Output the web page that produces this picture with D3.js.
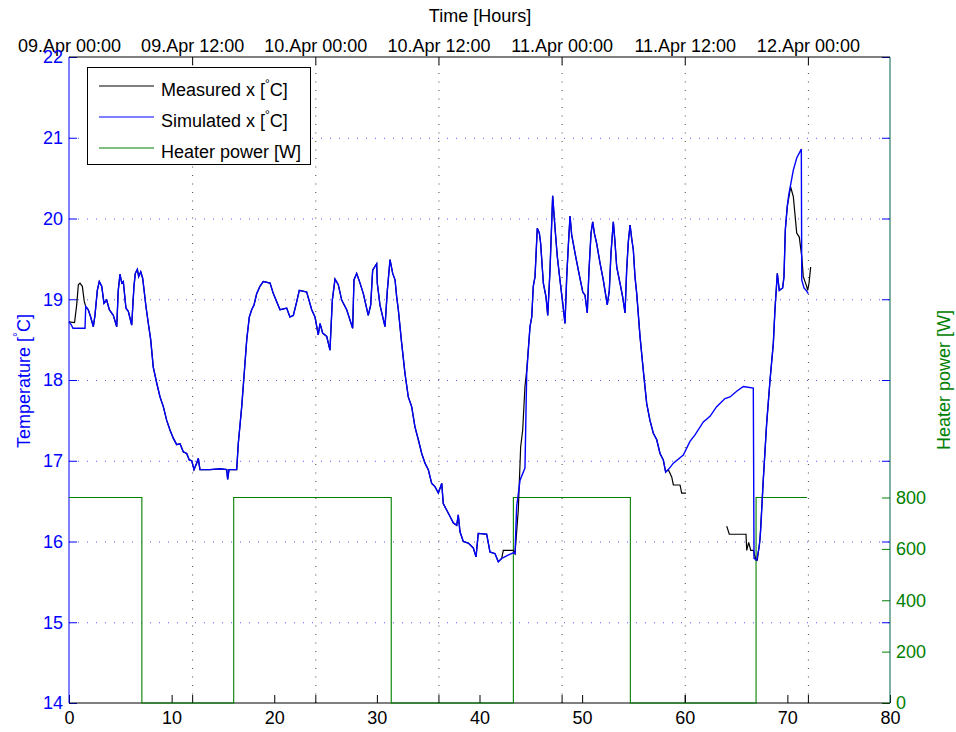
<!DOCTYPE html>
<html lang="en">
<head>
<meta charset="UTF-8">
<script src="https://d3js.org/d3.v7.min.js"></script>
<title>Measured vs simulated temperature</title>
<style>
  body { margin: 0; background: #fff; }
  svg text { font-family: "Liberation Sans", Arial, sans-serif; font-size: 18px; }
  .axis .domain { display: none; }
  .grid .domain { display: none; }
</style>
</head>
<body>
<svg id="chart" width="956" height="732"></svg>
<script>
// ---- tick values / labels
const hourTicks = [0, 10, 20, 30, 40, 50, 60, 70, 80];
const timeTickHours = [0, 12, 24, 36, 48, 60, 72];
const timeTickLabels = ['09.Apr 00:00', '09.Apr 12:00', '10.Apr 00:00', '10.Apr 12:00',
                        '11.Apr 00:00', '11.Apr 12:00', '12.Apr 00:00'];
const tempTicks = [14, 15, 16, 17, 18, 19, 20, 21, 22];
const powerTicks = [0, 200, 400, 600, 800];

// ---- heater power (step signal)
const heaterHours = [0, 7.1, 16.05, 31.4, 43.3, 54.7, 66.95, 71.9];
const heaterWatts = [800, 0, 800, 0, 800, 0, 800, 800];

// ---- temperature traces [hour, degC]
const measuredStart = [[0, 18.72], [0.54, 18.71], [0.75, 18.93], [0.91, 19.18], [1.07, 19.20],
  [1.30, 19.16], [1.49, 18.97]];
const simulatedStart = [[0, 18.72], [0.19, 18.69], [0.39, 18.64], [1.56, 18.64]];

// part where both curves lie on top of each other
const shared1 = [[1.63, 18.91], [1.88, 18.87], [2.11, 18.78], [2.37, 18.66], [2.53, 18.80], [2.76, 19.11],
  [2.95, 19.22], [3.19, 19.16], [3.41, 18.95], [3.67, 18.99], [3.93, 18.87], [4.32, 18.80], [4.65, 18.66],
  [4.80, 19.11], [4.97, 19.31], [5.14, 19.20], [5.29, 19.22], [5.55, 18.89], [5.78, 18.85], [6.11, 18.68],
  [6.33, 19.16], [6.46, 19.32], [6.66, 19.37], [6.79, 19.28], [6.99, 19.34], [7.18, 19.26], [7.50, 18.91],
  [7.73, 18.70], [7.96, 18.50], [8.21, 18.16], [8.55, 17.96], [8.87, 17.79], [9.19, 17.67], [9.52, 17.50],
  [9.84, 17.38], [10.16, 17.28], [10.49, 17.20], [10.82, 17.21], [11.14, 17.11], [11.47, 17.09],
  [11.72, 17.01], [11.96, 17.00], [12.18, 16.89], [12.44, 16.97], [12.60, 17.03], [12.76, 16.89],
  [13.74, 16.89], [14.71, 16.90], [15.37, 16.89], [15.46, 16.77], [15.59, 16.89], [16.34, 16.89],
  [16.50, 17.22], [16.83, 17.67], [17.05, 18.04], [17.32, 18.50], [17.57, 18.78], [17.80, 18.87],
  [18.03, 18.93], [18.29, 19.07], [18.61, 19.16], [18.93, 19.22], [19.59, 19.20], [19.91, 19.07],
  [20.24, 18.97], [20.56, 18.87], [21.21, 18.89], [21.53, 18.78], [21.86, 18.80], [22.19, 18.97],
  [22.44, 19.11], [23.16, 19.09], [23.65, 18.87], [23.97, 18.78], [24.29, 18.56], [24.46, 18.70],
  [24.72, 18.58], [25.11, 18.54], [25.43, 18.37], [25.66, 18.99], [25.92, 19.25], [26.24, 19.18],
  [26.57, 18.99], [27.06, 18.87], [27.64, 18.64], [27.77, 19.24], [28.03, 19.32], [28.36, 19.20],
  [28.68, 19.07], [29.16, 18.80], [29.40, 18.93], [29.59, 19.36], [29.98, 19.44], [30.04, 19.20],
  [30.30, 18.93], [30.79, 18.66], [31.02, 19.11], [31.28, 19.49], [31.54, 19.32], [31.77, 19.24],
  [31.93, 19.03], [32.09, 18.87], [32.42, 18.45], [32.74, 18.08], [33.06, 17.79], [33.39, 17.67],
  [33.71, 17.42], [34.04, 17.26], [34.37, 17.09], [34.69, 16.97], [35.01, 16.89], [35.34, 16.72],
  [35.66, 16.68], [35.99, 16.60], [36.32, 16.72], [36.47, 16.47], [36.80, 16.39], [37.13, 16.31],
  [37.45, 16.23], [37.78, 16.20], [37.93, 16.33], [38.10, 16.12], [38.42, 16.00], [38.91, 15.98],
  [39.40, 15.92], [39.66, 15.81], [39.88, 16.10], [40.70, 16.09], [41.02, 15.87], [41.51, 15.85],
  [41.83, 15.75], [42.16, 15.79]];

const measuredRise = [[42.32, 15.89], [43.29, 15.89], [43.46, 15.85], [43.78, 16.39], [44.01, 17.17],
  [44.21, 17.38], [44.43, 17.92], [44.60, 18.12]];
const simulatedRise = [[42.32, 15.80], [42.78, 15.83], [43.29, 15.86], [43.46, 15.85], [43.62, 16.43],
  [43.95, 16.76], [44.43, 16.91], [44.60, 18.08]];

const shared2 = [[44.92, 18.66], [45.09, 18.78], [45.24, 19.16], [45.41, 19.28], [45.63, 19.88],
  [45.83, 19.82], [45.96, 19.69], [46.22, 19.20], [46.48, 19.03], [46.65, 18.80], [46.87, 19.36],
  [47.13, 20.28], [47.36, 19.88], [47.58, 19.53], [47.84, 19.24], [48.11, 18.95], [48.33, 18.70],
  [48.50, 19.28], [48.65, 19.65], [48.82, 20.03], [48.98, 19.80], [49.31, 19.57], [49.63, 19.36],
  [50.06, 19.09], [50.28, 19.05], [50.50, 18.83], [50.67, 19.36], [50.87, 19.82], [51.03, 19.96],
  [51.19, 19.82], [51.42, 19.69], [51.74, 19.45], [52.06, 19.24], [52.45, 18.93], [52.65, 19.11],
  [52.81, 19.57], [53.04, 19.96], [53.20, 19.71], [53.37, 19.40], [53.69, 19.20], [53.95, 19.03],
  [54.18, 18.83], [54.34, 19.36], [54.50, 19.71], [54.67, 19.92], [54.83, 19.75], [54.99, 19.61],
  [55.15, 19.28], [55.32, 19.07], [55.64, 18.54], [55.96, 18.12], [56.29, 17.71], [56.61, 17.50],
  [56.94, 17.34], [57.27, 17.26], [57.59, 17.09], [57.91, 17.01], [58.14, 16.86], [58.40, 16.89]];

const measuredTail = [[58.73, 16.80], [58.89, 16.70], [59.54, 16.70], [59.70, 16.60], [60.12, 16.60]];
const simulatedDrift = [[58.89, 16.97], [59.86, 17.07], [60.51, 17.24], [61.00, 17.32], [61.81, 17.48],
  [62.46, 17.55], [63.11, 17.67], [63.92, 17.77], [64.41, 17.79], [65.06, 17.86], [65.71, 17.92],
  [66.68, 17.90], [66.75, 15.79], [67.01, 15.77], [67.26, 15.94], [67.40, 16.14]];
const measuredResume = [[64.09, 16.19], [64.34, 16.09], [65.97, 16.09], [66.04, 15.89], [66.23, 15.99],
  [66.43, 15.89], [66.68, 15.89], [66.94, 15.77], [67.07, 15.77], [67.33, 16.02]];

const shared3 = [[67.65, 16.76], [67.98, 17.46], [68.31, 18.00], [68.63, 18.45], [68.79, 18.87],
  [69.02, 19.32], [69.21, 19.11], [69.54, 19.14], [69.67, 19.28], [69.80, 19.86], [69.99, 20.15]];

const measuredEnd = [[70.32, 20.39], [70.58, 20.27], [70.91, 19.82], [71.16, 19.77], [71.40, 19.53],
  [71.55, 19.28], [71.88, 19.16], [71.98, 19.11], [72.11, 19.20], [72.27, 19.40]];
const simulatedEnd = [[70.13, 20.29], [70.58, 20.60], [70.91, 20.75], [71.36, 20.86], [71.40, 19.24],
  [71.62, 19.14], [71.88, 19.10], [72.04, 19.07]];

// measured has a logging gap (null breaks the line)
const measured = [...measuredStart, ...shared1, ...measuredRise, ...shared2, ...measuredTail, null,
                  ...measuredResume, ...shared3, ...measuredEnd];
const simulated = [...simulatedStart, ...shared1, ...simulatedRise, ...shared2, ...simulatedDrift,
                   ...shared3, ...simulatedEnd];
const heater = heaterHours.map((h, i) => [h, heaterWatts[i]]);

const BLUE = '#0000ff';
const GREEN = '#008000';

const svg = d3.select('svg#chart');
const plot = {left: 69, right: 890, top: 57, bottom: 703};

const x = d3.scaleLinear().domain([0, 80]).range([plot.left, plot.right]);
const yT = d3.scaleLinear().domain([14, 22]).range([plot.bottom, plot.top]);
const yP = d3.scaleLinear().domain([0, 800]).range([plot.bottom, 497.5]);

// gridlines
svg.append('g')
  .attr('class', 'grid')
  .attr('transform', `translate(${plot.left},0)`)
  .call(d3.axisLeft(yT).tickValues(tempTicks.slice(1, -1)).tickSize(-(plot.right - plot.left)).tickFormat(''))
  .selectAll('line')
  .attr('stroke', '#5a5aff')
  .attr('stroke-dasharray', '1,8');

svg.append('g')
  .attr('class', 'grid')
  .attr('transform', `translate(0,${plot.bottom})`)
  .call(d3.axisBottom(x).tickValues(timeTickHours.slice(1)).tickSize(-(plot.bottom - plot.top)).tickFormat(''))
  .selectAll('line')
  .attr('stroke', '#444')
  .attr('stroke-dasharray', '1,7.5');

// axes
const topAxis = svg.append('g')
  .attr('class', 'axis')
  .attr('transform', `translate(0,${plot.top})`)
  .attr('color', '#000')
  .call(d3.axisTop(x).tickValues(timeTickHours).tickFormat((d, i) => timeTickLabels[i])
    .tickSize(-8).tickPadding(5));
topAxis.selectAll('.tick').filter(d => d === 0).select('line').remove();

svg.append('g')
  .attr('class', 'axis')
  .attr('transform', `translate(0,${plot.bottom})`)
  .attr('color', '#000')
  .call(d3.axisBottom(x).tickValues(hourTicks).tickSize(-8).tickPadding(8));

svg.append('g')
  .attr('class', 'axis')
  .attr('transform', `translate(0,${plot.bottom})`)
  .attr('color', '#000')
  .call(d3.axisBottom(x).tickValues(timeTickHours.slice(1)).tickSize(-8).tickFormat(''));

svg.append('g')
  .attr('class', 'axis')
  .attr('transform', `translate(${plot.left},0)`)
  .attr('color', BLUE)
  .call(d3.axisLeft(yT).tickValues(tempTicks).tickSize(-8).tickPadding(6));

svg.append('g')
  .attr('class', 'axis')
  .attr('transform', `translate(${plot.right},0)`)
  .attr('color', BLUE)
  .call(d3.axisRight(yT).tickValues(tempTicks).tickSize(-8).tickFormat(''));

svg.append('g')
  .attr('class', 'axis')
  .attr('transform', `translate(${plot.right},0)`)
  .attr('color', GREEN)
  .call(d3.axisRight(yP).tickValues(powerTicks).tickSize(-8).tickPadding(6));

// frame
svg.append('line').attr('x1', plot.left).attr('x2', plot.right).attr('y1', plot.top).attr('y2', plot.top)
  .attr('stroke', '#000');
svg.append('line').attr('x1', plot.left).attr('x2', plot.right).attr('y1', plot.bottom).attr('y2', plot.bottom)
  .attr('stroke', '#000');
svg.append('line').attr('x1', plot.left).attr('x2', plot.left).attr('y1', plot.top).attr('y2', plot.bottom)
  .attr('stroke', BLUE);
svg.append('line').attr('x1', plot.right).attr('x2', plot.right).attr('y1', plot.top).attr('y2', plot.bottom)
  .attr('stroke', '#00604a');

// data lines
const tempLine = d3.line()
  .defined(d => d !== null)
  .x(d => x(d[0]))
  .y(d => yT(d[1]));
const powerLine = d3.line()
  .x(d => x(d[0]))
  .y(d => yP(d[1]))
  .curve(d3.curveStepAfter);

svg.append('path').datum(heater)
  .attr('d', powerLine).attr('fill', 'none').attr('stroke', GREEN).attr('stroke-width', 1.1);
svg.append('path').datum(measured)
  .attr('d', tempLine).attr('fill', 'none').attr('stroke', '#000').attr('stroke-width', 1.2);
svg.append('path').datum(simulated)
  .attr('d', tempLine).attr('fill', 'none').attr('stroke', BLUE).attr('stroke-width', 1.4);

// axis titles
svg.append('text')
  .attr('x', 480).attr('y', 22)
  .attr('text-anchor', 'middle')
  .text('Time [Hours]');

const yLabel = svg.append('text')
  .attr('transform', 'translate(30,381) rotate(-90)')
  .attr('text-anchor', 'middle')
  .attr('fill', BLUE);
yLabel.append('tspan').text('Temperature [');
yLabel.append('tspan').attr('dy', -8).style('font-size', '12px').text('°');
yLabel.append('tspan').attr('dy', 8).text('C]');

svg.append('text')
  .attr('transform', 'translate(950,380) rotate(-90)')
  .attr('text-anchor', 'middle')
  .attr('fill', GREEN)
  .text('Heater power [W]');

// legend
const legend = svg.append('g');
legend.append('rect')
  .attr('x', 87.5).attr('y', 67.5).attr('width', 223).attr('height', 97)
  .attr('fill', '#fff').attr('stroke', '#000');

const legendItems = [
  {label: 'Measured x [', deg: true, color: '#000'},
  {label: 'Simulated x [', deg: true, color: BLUE},
  {label: 'Heater power [W]', deg: false, color: GREEN}
];
legendItems.forEach((item, i) => {
  const ly = 86 + i * 31;
  legend.append('line')
    .attr('x1', 99).attr('x2', 154).attr('y1', ly).attr('y2', ly)
    .attr('stroke', item.color).attr('stroke-width', 1.1);
  const t = legend.append('text').attr('x', 161).attr('y', ly + 10);
  t.append('tspan').text(item.label);
  if (item.deg) {
    t.append('tspan').attr('dy', -8).style('font-size', '12px').text('°');
    t.append('tspan').attr('dy', 8).text('C]');
  }
});
</script>
</body>
</html>
